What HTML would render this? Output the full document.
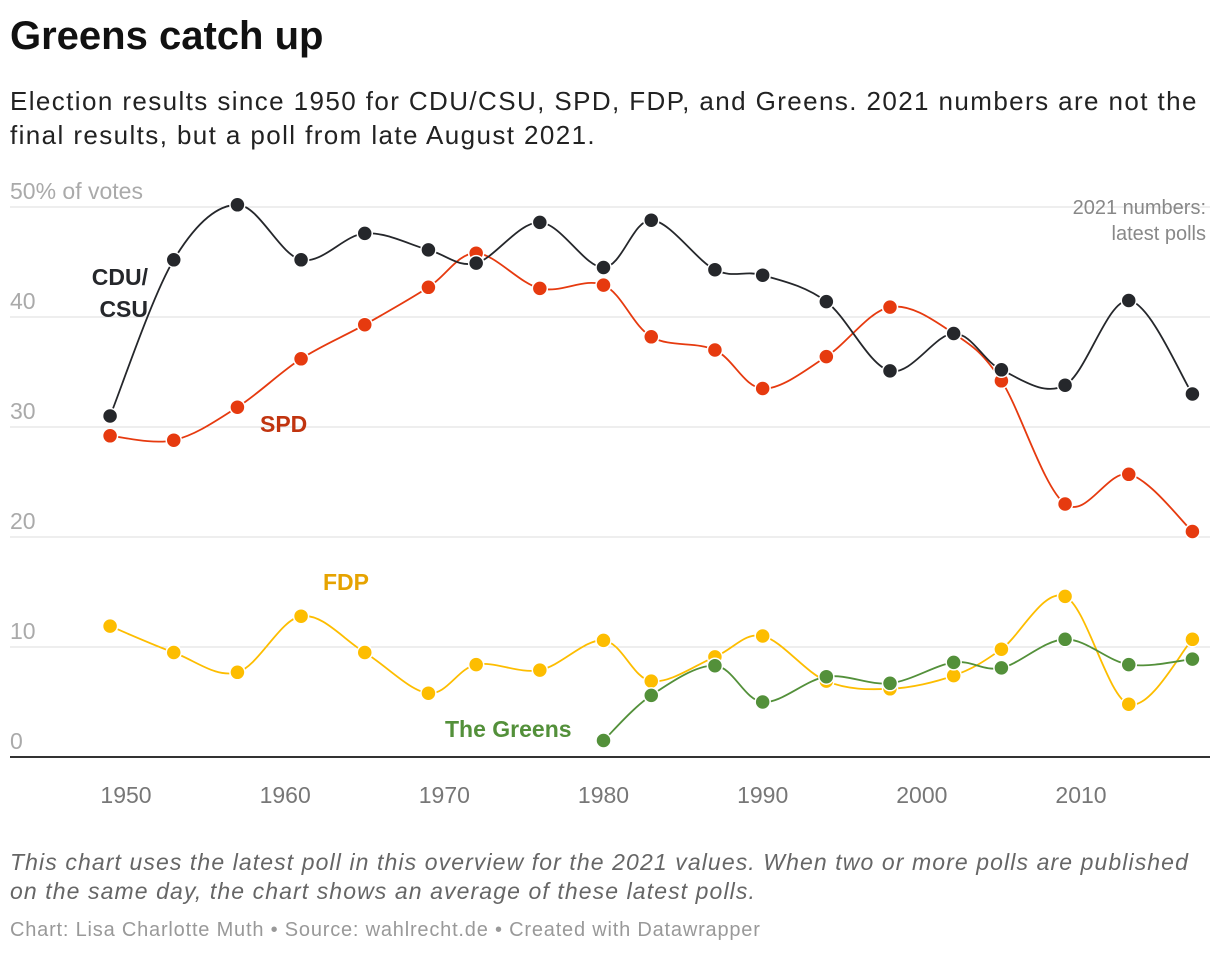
<!DOCTYPE html>
<html><head><meta charset="utf-8">
<style>
body{margin:0;width:1220px;height:956px;background:#fff;font-family:"Liberation Sans",sans-serif;overflow:hidden;position:relative}
.t{position:absolute;left:10px;white-space:nowrap}
</style></head><body>
<div class="t" style="top:14px;font-size:40px;font-weight:bold;color:#111">Greens catch up</div>
<div class="t" style="top:84px;font-size:26px;line-height:34px;color:#222;letter-spacing:1.4px">Election results since 1950 for CDU/CSU, SPD, FDP, and Greens. 2021 numbers are not the<br>final results, but a poll from late August 2021.</div>
<svg id="chart" style="position:absolute;left:0;top:0" width="1220" height="956"></svg>
<div class="t" style="top:848px;font-size:23px;line-height:29px;font-style:italic;color:#666;letter-spacing:1.1px">This chart uses the latest poll in this overview for the 2021 values. When two or more polls are published<br>on the same day, the chart shows an average of these latest polls.</div>
<div class="t" style="top:919px;font-size:20px;color:#999;letter-spacing:0.8px">Chart: Lisa Charlotte Muth • Source: wahlrecht.de • Created with Datawrapper</div>
<script>
const years=[1949,1953,1957,1961,1965,1969,1972,1976,1980,1983,1987,1990,1994,1998,2002,2005,2009,2013,2017];
const cdu=[31.0,45.2,50.2,45.2,47.6,46.1,44.9,48.6,44.5,48.8,44.3,43.8,41.4,35.1,38.5,35.2,33.8,41.5,33.0];
const spd=[29.2,28.8,31.8,36.2,39.3,42.7,45.8,42.6,42.9,38.2,37.0,33.5,36.4,40.9,38.5,34.2,23.0,25.7,20.5];
const fdp=[11.9,9.5,7.7,12.8,9.5,5.8,8.4,7.9,10.6,6.9,9.1,11.0,6.9,6.2,7.4,9.8,14.6,4.8,10.7];
const greenYears=[1980,1983,1987,1990,1994,1998,2002,2005,2009,2013,2017];
const greens=[1.5,5.6,8.3,5.0,7.3,6.7,8.6,8.1,10.7,8.4,8.9];
const yTicks=[0,10,20,30,40,50];
const xTicks=[1950,1960,1970,1980,1990,2000,2010];
const NS="http://www.w3.org/2000/svg";
const svg=document.getElementById('chart');
const x=v=>126+(v-1950)*955/60;
const y=v=>757-v*11;
function el(t,a,txt){const e=document.createElementNS(NS,t);for(const k in a)e.setAttribute(k,a[k]);if(txt!=null)e.textContent=txt;svg.appendChild(e);return e;}
yTicks.forEach(t=>{
 if(t>0){const g=el('line',{x1:10,x2:1210,y1:y(t),y2:y(t),stroke:'#ddd','stroke-width':1});
 
 }
 const l=el('text',{x:10,y:y(t)-8,'font-size':23,fill:'#aaa'},t===50?'50% of votes':String(t));
 
 
});
const ax=el('line',{x1:10,x2:1210,y1:757,y2:757,stroke:'#333','stroke-width':2});


xTicks.forEach(t=>{
 const l=el('text',{x:x(t),y:803,'font-size':23,fill:'#777','text-anchor':'middle'},String(t));
 
 
});
function path(xs,vs){const p=xs.map((a,i)=>[x(a),y(vs[i])]);let d='M'+p[0];
 for(let i=0;i<p.length-1;i++){const p0=p[i-1]||p[i],p1=p[i],p2=p[i+1],p3=p[i+2]||p2;
 const c1=[p1[0]+(p2[0]-p0[0])/6,p1[1]+(p2[1]-p0[1])/6],c2=[p2[0]-(p3[0]-p1[0])/6,p2[1]-(p3[1]-p1[1])/6];
 d+='C'+c1+' '+c2+' '+p2;}return d;}
function series(name,xs,vs,col){
 const p=el('path',{d:path(xs,vs),fill:'none',stroke:col,'stroke-width':1.8});
 
 
 xs.forEach((a,i)=>{const c=el('circle',{cx:x(a),cy:y(vs[i]),r:7.5,fill:col,stroke:'#fff','stroke-width':1.5});
 
 });
}
series('fdp',years,fdp,'#fdbd00');
series('greens',greenYears,greens,'#53903a');
series('spd',years,spd,'#e63a0f');
series('cdu',years,cdu,'#25272b');
function lab(n,tx,ty,txt,col,anchor){const l=el('text',{x:tx,y:ty,'font-size':23,'font-weight':'bold',fill:col,'text-anchor':anchor||'start'},txt);
 
 }
lab('cdu-label',148,285,'CDU/','#25272b','end');
lab('cdu-label-2',148,317,'CSU','#25272b','end');
lab('spd-label',260,432,'SPD','#c1340f');
lab('fdp-label',323,590,'FDP','#e6a300');
lab('greens-label',445,737,'The Greens','#53903a');
const a1=el('text',{x:1206,y:214,'font-size':20,fill:'#888','text-anchor':'end'},'2021 numbers:');


const a2=el('text',{x:1206,y:240,'font-size':20,fill:'#888','text-anchor':'end'},'latest polls');


</script>
</body></html>
